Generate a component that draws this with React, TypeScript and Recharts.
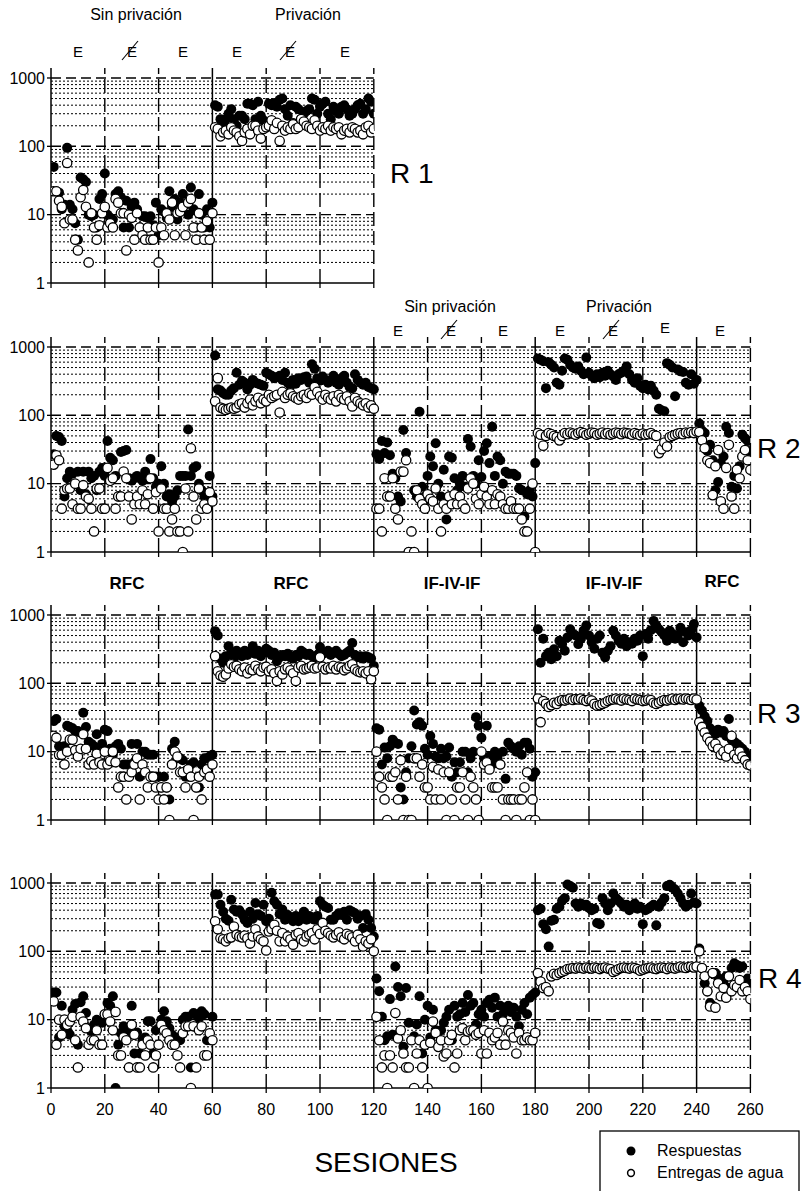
import React from "react";
import { ScatterChart, Scatter, XAxis, YAxis, ReferenceLine } from "recharts";

// sesiones 1..120 (R1) y 1..260 (R2-R4); un valor por sesión
const r1Respuestas = [
  50, 22, 21, 12, 14, 95, 14, 12, 7.5, 4.3, 35, 33, 30, 10, 9.5, 10, 6.5, 17, 20, 40,
  10, 9, 8.5, 20, 22, 18, 6.5, 16, 6.5, 13, 15, 12, 6.5, 9.5, 9.5, 9, 9.5, 7, 15, 5,
  12, 11, 9, 22, 13, 17, 8.5, 15, 20, 14, 10, 25, 12, 6.5, 20, 10, 6.5, 12, 6.5, 15,
  400, 380, 250, 220, 250, 300, 350, 250, 200, 280, 280, 250, 420, 420, 400, 250, 450, 280, 240, 200,
  420, 400, 430, 380, 480, 500, 350, 280, 400, 220, 380, 350, 250, 300, 330, 350, 500, 480, 300, 380,
  420, 450, 300, 250, 380, 330, 300, 380, 400, 350, 280, 300, 350, 400, 420, 300, 350, 500, 450, 300,
];
const r1Entregas = [
  22, 22, 16, 13, 7.5, 57, 8.5, 8.5, 4.3, 3, 18, 23, 13, 2, 10.5, 6.5, 4.3, 7, 10.5, 13,
  6.5, 7.5, 6.5, 17, 15, 10.5, 10.5, 3, 10, 9, 4.3, 10.5, 6.5, 5, 4.3, 6.5, 4.3, 4.3, 6.5, 2,
  6.5, 5, 10.5, 8.5, 15, 5, 10.5, 11, 13, 5, 15, 17, 6.5, 4.3, 10.5, 6.5, 4.3, 8, 4.3, 10.5,
  190, 180, 140, 160, 170, 150, 190, 170, 160, 140, 120, 160, 180, 150, 200, 200, 170, 130, 180, 190,
  200, 240, 180, 220, 120, 200, 170, 190, 180, 210, 180, 190, 250, 230, 200, 190, 180, 240, 200, 170,
  190, 180, 200, 170, 190, 180, 190, 150, 170, 180, 160, 190, 180, 160, 170, 150, 190, 200, 160, 180,
];

const r2Respuestas = [
  27, 50, 48, 42, 6.5, 12, 15, 14, 10, 15, 8, 15, 7, 15, 12, 13, 8, 15, 17, 13,
  42, 24, 22, 13, 6.5, 29, 30, 31, 12, 11, 12, 13, 12, 11, 15, 12, 23, 12, 9, 10,
  18, 10, 6.5, 7, 5.5, 6.5, 8, 13, 13, 13, 62, 13, 17, 18, 10, 8, 6.5, 6, 13, 6.5,
  750, 240, 230, 210, 200, 200, 230, 250, 420, 280, 320, 300, 240, 280, 330, 300, 290, 280, 270, 420,
  400, 380, 350, 360, 380, 330, 420, 300, 270, 330, 290, 350, 330, 360, 370, 300, 560, 480, 350, 320,
  370, 330, 300, 320, 380, 300, 280, 350, 380, 300, 260, 250, 400, 330, 300, 280, 300, 260, 250, 240,
  27, 23, 42, 28, 40, 26, 14, 12, 6.5, 5.5, 61, 28, 1, 1, 8, 6.5, 113, 9, 6.5, 13,
  25, 18, 39, 10, 6.5, 16, 3, 25, 24, 12, 8, 10, 13, 9, 45, 35, 13, 10, 22, 12.5,
  30, 39, 20, 68, 13, 25, 22, 10, 15, 14, 14, 14, 13, 8.5, 8, 3.3, 7, 8, 6.5, 20,
  680, 650, 620, 250, 600, 550, 500, 300, 280, 450, 680, 650, 550, 500, 480, 520, 450, 400, 700, 420,
  380, 350, 400, 360, 420, 380, 450, 400, 370, 330, 400, 420, 450, 520, 400, 330, 300, 350, 270, 250,
  280, 240, 270, 230, 200, 125, 118, 115, 580, 550, 500, 190, 470, 440, 430, 300, 280, 400, 290, 330,
  76, 60, 55, 30, 37, 22, 8, 10.6, 20, 25, 68, 55, 9, 13, 8.5, 18, 52, 46, 42, 30,
];
const r2Entregas = [
  19, 26, 22, 4.3, 8, 8.5, 8.5, 5, 10, 4.3, 4.3, 9.5, 6.5, 6, 4.3, 2, 8.5, 8.5, 4.3, 4.3,
  17, 11, 12, 4.3, 6.5, 6.5, 15, 12, 6.5, 3, 5, 6.5, 5, 8, 5, 7, 12, 4.3, 7.5, 2,
  8.5, 4.3, 4.3, 2, 3, 4.3, 2, 2, 1, 8.5, 2, 33, 6.5, 3, 8.5, 4.3, 5, 4.3, 7.5, 5.5,
  160, 350, 130, 125, 120, 125, 130, 125, 130, 145, 150, 130, 150, 170, 140, 160, 180, 150, 170, 160,
  200, 180, 190, 200, 110, 220, 180, 200, 210, 190, 180, 170, 190, 200, 180, 210, 200, 260, 220, 190,
  170, 200, 180, 170, 190, 160, 200, 180, 170, 190, 160, 135, 180, 160, 150, 140, 150, 130, 140, 125,
  4.3, 4.3, 2, 12, 6.5, 6.5, 12, 4.3, 3, 15, 15, 22, 1, 2, 1, 8, 6, 5, 4.3, 7,
  6, 5.5, 8.5, 4.3, 2, 5, 4.3, 6.5, 5, 7, 5, 6.5, 5, 4.3, 8.5, 12, 10, 6, 5, 7,
  9, 6.5, 5, 8, 5, 7, 6.5, 5, 4.3, 4.3, 5.5, 4.3, 4.3, 4.3, 3, 2, 2, 4.3, 10, 1,
  55, 52, 36, 50, 55, 53, 50, 48, 43, 50, 55, 53, 56, 54, 52, 55, 57, 55, 52, 54,
  56, 55, 52, 54, 56, 53, 55, 52, 54, 56, 55, 53, 56, 55, 54, 52, 55, 53, 51, 54,
  52, 53, 55, 52, 50, 28, 32, 40, 35, 48, 50, 52, 54, 55, 53, 56, 55, 57, 55, 58,
  57, 43, 33, 22, 20, 6.8, 18, 31, 5.5, 4.3, 17, 37, 6.5, 4.3, 16, 12, 25, 31, 22, 16,
];

const r3Respuestas = [
  28, 30, 12, 11, 12, 24, 23, 22, 20, 20, 19, 37, 23, 14, 13, 12, 18, 10, 13, 21,
  20, 11, 9, 12, 13, 11, 6.5, 6.5, 6.5, 13, 7, 13, 4.3, 10, 10, 9, 9, 9, 4.3, 4.3,
  3, 4.3, 3, 2, 11, 14, 8, 8, 7.5, 4.3, 4.3, 6.5, 7, 3, 3, 6.5, 8, 8, 8.5, 9,
  580, 500, 230, 200, 250, 350, 280, 230, 300, 270, 250, 300, 260, 280, 350, 270, 300, 250, 280, 320,
  300, 260, 280, 210, 240, 260, 250, 270, 240, 230, 260, 250, 300, 280, 260, 270, 250, 240, 260, 340,
  270, 280, 300, 260, 280, 300, 270, 250, 260, 280, 300, 390, 260, 240, 250, 230, 250, 240, 230, 180,
  22, 21, 6.5, 11.5, 8, 12, 15, 13.5, 13, 3, 2, 5, 8, 12, 40, 25, 27, 24, 11, 9,
  17, 13, 8.5, 8, 11, 8, 8.5, 11.5, 4.3, 7, 5, 7, 10, 10, 5, 8, 10, 32, 24, 16,
  8, 24, 8.5, 6.5, 10, 8, 6.5, 10, 4, 13.5, 12, 11, 10, 12, 9, 13.5, 13.5, 11, 4.3, 5,
  620, 200, 450, 250, 280, 225, 315, 250, 420, 375, 300, 470, 620, 525, 500, 375, 450, 590, 700, 500,
  400, 320, 450, 500, 280, 240, 300, 350, 590, 500, 420, 380, 450, 350, 400, 380, 450, 420, 500, 250,
  525, 450, 600, 820, 700, 620, 560, 500, 420, 590, 525, 450, 500, 650, 400, 560, 500, 600, 740, 470,
  47, 40, 33, 28, 22, 20, 18, 21, 19, 20, 17, 30, 15, 14, 13, 12, 11, 10, 8.5, 7.5,
];
const r3Entregas = [
  17, 16, 9, 9, 6.5, 10, 15, 15, 10.5, 8.5, 11, 18, 11, 6.5, 7.3, 6.5, 9.3, 7, 6.5, 10,
  6.5, 7.3, 10, 7, 3, 4.3, 4.3, 2, 4.3, 5, 6.5, 8, 2, 6.5, 5, 3, 4.3, 4.3, 3, 2,
  3, 2, 3, 1, 6.5, 10, 8.5, 5, 5, 3, 5.5, 4.3, 1, 3, 4.3, 2, 5, 5.5, 4.3, 6.5,
  250, 150, 130, 125, 135, 165, 190, 175, 180, 160, 150, 170, 140, 160, 155, 180, 160, 150, 170, 175,
  150, 160, 140, 108, 150, 135, 160, 170, 155, 140, 108, 170, 180, 160, 165, 170, 180, 165, 170, 240,
  175, 160, 170, 165, 180, 160, 175, 170, 155, 165, 180, 190, 160, 150, 145, 150, 140, 150, 115, 150,
  10, 4.3, 3, 2, 1, 4.3, 4.3, 5, 2, 7.5, 1, 4.3, 1, 1, 8, 8, 4.3, 6.5, 3, 3,
  2, 6, 2, 5.5, 2, 5, 1, 5, 2, 1, 3, 3, 5, 2, 1, 4.3, 3, 2, 1, 10,
  6.5, 7, 5.5, 3, 3, 3, 6.5, 2, 1, 2, 2, 2, 1, 2, 2, 3, 5, 1, 2, 1,
  60, 27, 55, 50, 45, 48, 52, 50, 55, 57, 56, 58, 60, 57, 59, 58, 60, 57, 55, 58,
  56, 50, 47, 48, 50, 52, 55, 57, 58, 60, 58, 56, 60, 58, 57, 55, 60, 58, 57, 55,
  56, 58, 57, 52, 50, 52, 55, 57, 56, 58, 60, 57, 59, 60, 58, 60, 59, 57, 60, 58,
  27, 23, 19, 16, 14, 12, 13, 11, 9, 10, 8.5, 11, 17, 9, 8, 10, 8.5, 7.5, 6.5, 6.3,
];

const r4Respuestas = [
  25, 25, 5.5, 16, 8, 7, 6, 14, 17, 4.3, 18, 22, 12.5, 7.5, 6.7, 8.4, 10, 9.5, 9, 12,
  17.5, 16, 22, 1, 4.3, 6.4, 8, 7.5, 6.5, 16, 3.2, 6.5, 3.2, 5, 5.5, 9.5, 9.5, 3.2, 7, 7.5,
  10, 13.3, 9.5, 7.5, 6, 5, 5.5, 5, 10, 11, 11, 2, 12.5, 11.8, 10.5, 13.3, 12, 5, 5, 11,
  680, 680, 480, 380, 300, 280, 570, 410, 380, 400, 350, 290, 260, 380, 300, 510, 350, 330, 480, 275,
  300, 720, 540, 480, 350, 410, 290, 340, 300, 275, 330, 275, 300, 380, 290, 330, 300, 290, 330, 540,
  480, 450, 430, 290, 290, 330, 360, 340, 380, 290, 400, 380, 360, 300, 330, 220, 350, 290, 220, 165,
  40, 26, 11, 5, 5.7, 20, 6, 60, 30, 22, 4, 29, 9, 5, 5.7, 8.5, 22, 3.2, 10, 16,
  5.5, 14, 7, 6.7, 7, 9, 11, 14, 5, 16, 11, 12, 17.5, 13, 23, 16, 17.5, 8.5, 12, 14,
  11, 17.5, 19.5, 15, 21, 11, 16, 12, 14, 16, 13, 15, 11, 8, 14, 17.5, 12, 21, 23, 25,
  400, 420, 250, 210, 118, 280, 290, 420, 450, 550, 600, 950, 900, 850, 500, 450, 500, 470, 480, 430,
  400, 420, 260, 250, 600, 500, 400, 500, 700, 600, 550, 500, 450, 480, 400, 450, 500, 420, 450, 250,
  400, 420, 450, 480, 240, 450, 520, 600, 900, 940, 850, 800, 700, 600, 500, 450, 480, 700, 520, 500,
  110, 57, 34, 26, 17.5, 16, 48, 41, 36, 34, 43, 29, 57, 67, 63, 57, 60, 34, 40, 29,
];
const r4Entregas = [
  18.5, 4.3, 10, 6, 10, 8.4, 9.4, 11, 5, 2, 11, 9.4, 7.5, 4.3, 5, 5, 7, 4.3, 4.3, 12,
  12, 9.4, 7, 13, 3, 3, 5.5, 5, 2, 8.4, 6, 2, 2, 4.3, 3, 5, 4.3, 2, 3, 4.3,
  8.4, 7, 6.3, 5, 4.3, 4.3, 3, 2, 6.3, 8, 8, 1, 8, 2, 7, 8, 3, 3, 6.3, 5,
  275, 210, 155, 150, 140, 155, 160, 230, 175, 165, 160, 170, 155, 130, 165, 210, 165, 150, 140, 103,
  195, 210, 245, 200, 140, 185, 140, 165, 150, 125, 175, 185, 150, 140, 165, 175, 185, 150, 210, 180,
  260, 200, 185, 170, 160, 175, 190, 160, 150, 180, 170, 160, 140, 175, 150, 118, 140, 130, 150, 100,
  11, 5, 2, 3, 1, 3, 2, 12.5, 5.3, 7, 3.2, 2, 2, 5, 1, 3.2, 5, 2, 4.3, 1,
  4.6, 9.4, 6.4, 4, 5, 2.9, 3.2, 5, 6, 2, 3.2, 7, 7.5, 5, 6.7, 7, 7, 6, 6.4, 3.2,
  7, 3.2, 6.4, 5, 5.5, 6.4, 4.3, 9.4, 4.3, 7, 6.4, 5.5, 3.2, 6.4, 5, 5, 5.5, 5, 5, 6.4,
  48, 36, 29, 30, 26, 43, 47, 45, 48, 50, 52, 55, 56, 57, 56, 58, 57, 56, 58, 57,
  56, 58, 57, 55, 57, 58, 56, 55, 50, 52, 55, 57, 58, 57, 56, 58, 57, 55, 52, 54,
  56, 57, 58, 56, 55, 57, 58, 57, 55, 58, 57, 56, 58, 60, 58, 57, 59, 60, 58, 60,
  100, 57, 43, 26, 15.6, 48, 15, 34, 22, 29, 21, 43, 26, 32, 30, 38, 26, 30, 26, 20,
];

const sesionesTicks = [0, 20, 40, 60, 80, 100, 120, 140, 160, 180, 200, 220, 240, 260];
const logTicks = [1, 10, 100, 1000];
const lineasMayores = [10, 100, 1000];
const lineasMenores = [2, 3, 4, 5, 6, 7, 8, 9, 20, 30, 40, 50, 60, 70, 80, 90, 200, 300, 400, 500, 600, 700, 800, 900];

const FUENTE = "'Liberation Sans', Arial, Helvetica, sans-serif";
const PX = 2.69; // px por sesión
const IZQ = 51;

const toPoints = (vals: number[]) => vals.map((v, i) => ({ sesion: i + 1, valor: v }));

const Lleno = (props: any) => <circle cx={props.cx} cy={props.cy} r={5} fill="#000" />;
const Vacio = (props: any) => (
  <circle cx={props.cx} cy={props.cy} r={4.7} fill="#fff" stroke="#000" strokeWidth={1.3} />
);

type PanelProps = {
  respuestas: number[];
  entregas: number[];
  maxX: number;
  top: number;
  width: number;
  cortes: number[];
  conEtiquetas?: boolean;
};

const Panel = ({ respuestas, entregas, maxX, top, width, cortes, conEtiquetas }: PanelProps) => {
  const ticksX = sesionesTicks.filter((t) => t <= maxX);
  const discontinuas = ticksX.filter((t) => t > 0 && !cortes.includes(t));
  return (
    <div style={{ position: "absolute", left: 0, top }}>
      <ScatterChart
        width={width}
        height={255}
        margin={{ top: 10, right: width - IZQ - maxX * PX, bottom: 0, left: 0 }}
      >
        {lineasMenores.map((v) => (
          <ReferenceLine key={"m" + v} y={v} stroke="#000" strokeWidth={1} strokeDasharray="2 2" />
        ))}
        {lineasMayores.map((v) => (
          <ReferenceLine key={"M" + v} y={v} stroke="#000" strokeWidth={1.4} strokeDasharray="10 5" />
        ))}
        {discontinuas.map((v) => (
          <ReferenceLine key={"d" + v} x={v} stroke="#000" strokeWidth={1.4} strokeDasharray="14 5" />
        ))}
        {cortes.map((v) => (
          <ReferenceLine key={"c" + v} x={v} stroke="#000" strokeWidth={1.5} />
        ))}
        <XAxis
          type="number"
          dataKey="sesion"
          domain={[0, maxX]}
          ticks={ticksX}
          allowDataOverflow
          height={30}
          tickSize={5}
          tickMargin={11}
          axisLine={{ stroke: "#000", strokeWidth: 1.5 }}
          tickLine={{ stroke: "#000", strokeWidth: 1.3 }}
          tick={{ fill: "#000", fontSize: 16, fontFamily: FUENTE }}
          tickFormatter={conEtiquetas ? (v: number) => String(v) : () => ""}
        />
        <YAxis
          type="number"
          dataKey="valor"
          scale="log"
          domain={[1, 1400]}
          ticks={logTicks}
          allowDataOverflow
          width={IZQ}
          tickSize={4}
          tickMargin={2}
          axisLine={{ stroke: "#000", strokeWidth: 1.5 }}
          tickLine={{ stroke: "#000", strokeWidth: 1.3 }}
          tick={{ fill: "#000", fontSize: 16, fontFamily: FUENTE }}
        />
        <Scatter data={toPoints(respuestas)} shape={Lleno} isAnimationActive={false} />
        <Scatter data={toPoints(entregas)} shape={Vacio} isAnimationActive={false} />
      </ScatterChart>
    </div>
  );
};

const ETiquetaE = ({ x, y, tachada }: { x: number; y: number; tachada?: boolean }) => (
  <g>
    <text x={x} y={y} textAnchor="middle" fontSize={15}>
      E
    </text>
    {tachada && <line x1={x - 10} y1={y + 3} x2={x + 6} y2={y - 16} stroke="#000" strokeWidth={1.1} />}
  </g>
);

export default function App() {
  return (
    <div
      style={{
        position: "absolute",
        left: 0,
        top: 0,
        width: 804,
        height: 1191,
        overflow: "hidden",
        background: "#fff",
        fontFamily: FUENTE,
      }}
    >
      <Panel respuestas={r1Respuestas} entregas={r1Entregas} maxX={120} top={58} width={400} cortes={[60]} />
      <Panel respuestas={r2Respuestas} entregas={r2Entregas} maxX={260} top={327} width={804} cortes={[60, 120, 180, 240]} />
      <Panel respuestas={r3Respuestas} entregas={r3Entregas} maxX={260} top={595} width={804} cortes={[60, 120, 180, 240]} />
      <Panel
        respuestas={r4Respuestas}
        entregas={r4Entregas}
        maxX={260}
        top={863}
        width={804}
        cortes={[60, 120, 180, 240]}
        conEtiquetas
      />
      <svg
        width={804}
        height={1191}
        style={{ position: "absolute", left: 0, top: 0, pointerEvents: "none" }}
        fontFamily={FUENTE}
        fill="#000"
      >
        {/* R1 */}
        <text x={136} y={20} textAnchor="middle" fontSize={16}>Sin privación</text>
        <text x={308} y={20} textAnchor="middle" fontSize={16}>Privación</text>
        <ETiquetaE x={78} y={57} />
        <ETiquetaE x={132} y={57} tachada />
        <ETiquetaE x={183} y={57} />
        <ETiquetaE x={237} y={57} />
        <ETiquetaE x={290} y={57} tachada />
        <ETiquetaE x={345} y={57} />
        <text x={390} y={183} fontSize={28}>R 1</text>

        {/* R2 */}
        <text x={450} y={312} textAnchor="middle" fontSize={16}>Sin privación</text>
        <text x={619} y={312} textAnchor="middle" fontSize={16}>Privación</text>
        <ETiquetaE x={398} y={336} />
        <ETiquetaE x={451} y={336} tachada />
        <ETiquetaE x={503} y={336} />
        <ETiquetaE x={560} y={336} />
        <ETiquetaE x={613} y={336} tachada />
        <ETiquetaE x={665} y={333} />
        <ETiquetaE x={720} y={336} />
        <text x={757} y={458} fontSize={28}>R 2</text>

        {/* R3 */}
        <text x={127} y={589} textAnchor="middle" fontSize={17} fontWeight="bold">RFC</text>
        <text x={291} y={589} textAnchor="middle" fontSize={17} fontWeight="bold">RFC</text>
        <text x={452} y={589} textAnchor="middle" fontSize={17} fontWeight="bold">IF-IV-IF</text>
        <text x={614} y={589} textAnchor="middle" fontSize={17} fontWeight="bold">IF-IV-IF</text>
        <text x={722} y={587} textAnchor="middle" fontSize={17} fontWeight="bold">RFC</text>
        <text x={757} y={723} fontSize={28}>R 3</text>

        {/* R4 */}
        <text x={758} y={988} fontSize={28}>R 4</text>

        <text x={386} y={1172} textAnchor="middle" fontSize={28}>SESIONES</text>

        {/* leyenda */}
        <rect x={600} y={1131} width={199} height={80} fill="none" stroke="#000" strokeWidth={1.3} />
        <circle cx={631} cy={1151} r={4.5} fill="#000" />
        <text x={657} y={1156} fontSize={16}>Respuestas</text>
        <circle cx={631} cy={1173} r={3.4} fill="#fff" stroke="#000" strokeWidth={1.5} />
        <text x={657} y={1178} fontSize={16}>Entregas de agua</text>
      </svg>
    </div>
  );
}
